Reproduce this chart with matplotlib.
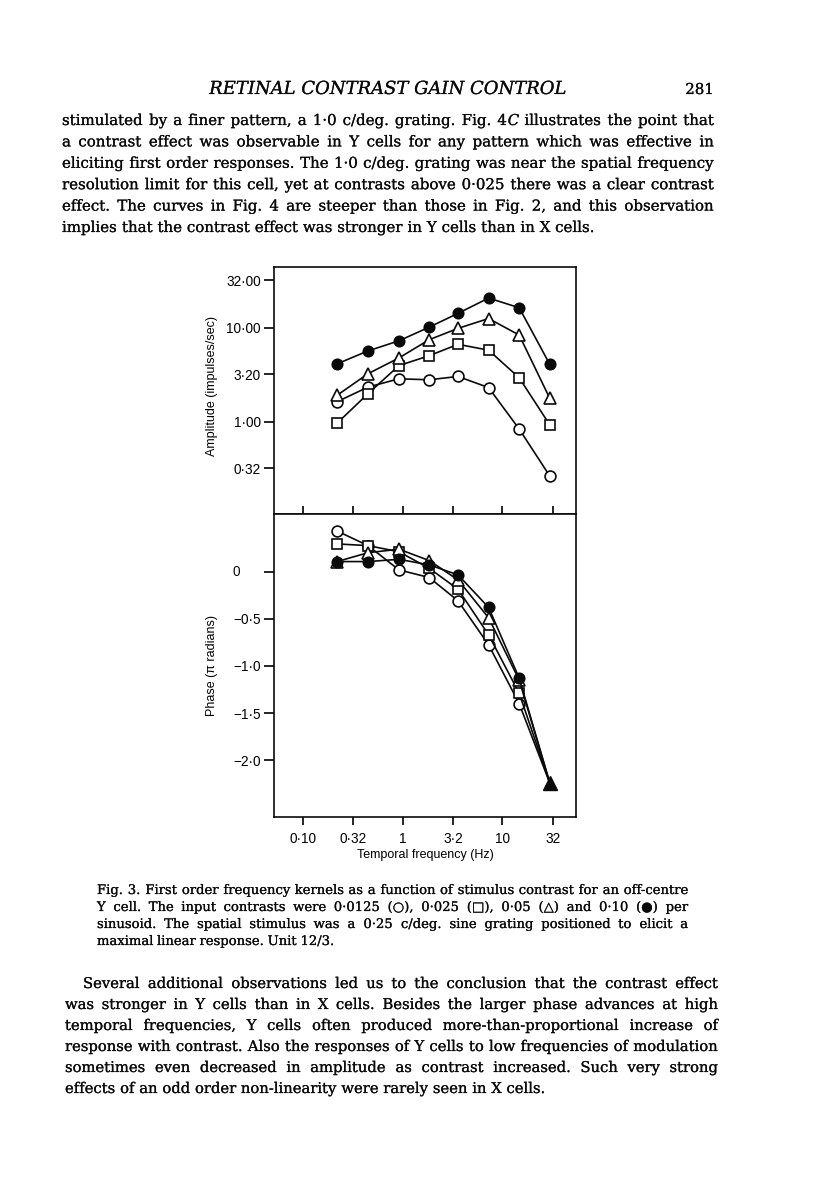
import matplotlib
matplotlib.use('Agg')
import matplotlib.pyplot as plt
import matplotlib.patheffects as pe

# ---------------- data ----------------
freqs = [0.22, 0.45, 0.92, 1.85, 3.6, 7.3, 14.8, 30.0]

amp_c0125 = [1.64, 2.35, 2.88, 2.81, 3.05, 2.32, 0.84, 0.266]   # open circles
amp_c025 = [0.97, 2.0, 3.98, 5.07, 6.7, 5.8, 2.95, 0.93]        # open squares
amp_c05 = [1.92, 3.26, 4.8, 7.5, 9.9, 12.6, 8.4, 1.78]          # open triangles
amp_c10 = [4.15, 5.7, 7.3, 10.2, 14.3, 20.8, 16.4, 4.1]         # filled circles

ph_c0125 = [0.43, 0.275, 0.018, -0.063, -0.31, -0.776, -1.40, -2.24]
ph_c025 = [0.293, 0.275, 0.21, 0.035, -0.187, -0.67, -1.29, -2.24]
ph_c05 = [0.106, 0.2, 0.237, 0.117, -0.088, -0.49, -1.15, -2.24]
ph_c10 = [0.106, 0.106, 0.13, 0.071, -0.035, -0.38, -1.13, -2.24]

amp_ticks = [0.32, 1.0, 3.2, 10.0, 32.0]
amp_ticklabels = ['0·32', '1·00', '3·20', '10·00', '32·00']
ph_ticks = [0, -0.5, -1.0, -1.5, -2.0]
ph_ticklabels = ['', '\u22120·5', '\u22121·0', '\u22121·5', '\u22122·0']
f_ticks = [0.1, 0.32, 1, 3.2, 10, 32]
f_ticklabels = ['0·10', '0·32', '1', '3·2', '10', '32']

header = 'RETINAL CONTRAST GAIN CONTROL'
page_no = '281'
para1 = [
    'stimulated by a finer pattern, a 1·0 c/deg. grating. Fig. 4*C* illustrates the point that',
    'a contrast effect was observable in Y cells for any pattern which was effective in',
    'eliciting first order responses. The 1·0 c/deg. grating was near the spatial frequency',
    'resolution limit for this cell, yet at contrasts above 0·025 there was a clear contrast',
    'effect. The curves in Fig. 4 are steeper than those in Fig. 2, and this observation',
    'implies that the contrast effect was stronger in Y cells than in X cells.',
]
caption = [
    'Fig. 3. First order frequency kernels as a function of stimulus contrast for an off-centre',
    'Y cell. The input contrasts were 0·0125 (○), 0·025 (□), 0·05 (△) and 0·10 (●) per',
    'sinusoid. The spatial stimulus was a 0·25 c/deg. sine grating positioned to elicit a',
    'maximal linear response. Unit 12/3.',
]
para2 = [
    'Several additional observations led us to the conclusion that the contrast effect',
    'was stronger in Y cells than in X cells. Besides the larger phase advances at high',
    'temporal frequencies, Y cells often produced more-than-proportional increase of',
    'response with contrast. Also the responses of Y cells to low frequencies of modulation',
    'sometimes even decreased in amplitude as contrast increased. Such very strong',
    'effects of an odd order non-linearity were rarely seen in X cells.',
]

# ---------------- figure ----------------
W, H = 816, 1191
fig = plt.figure(figsize=(W / 100, H / 100), dpi=100)
fig.patch.set_facecolor('white')
renderer = fig.canvas.get_renderer()
SERIF = ['DejaVu Serif', 'DejaVu Sans']
SANS = ['Liberation Sans', 'DejaVu Sans']
INK = '#0a0a0a'
HEAVY = [pe.withStroke(linewidth=0.15, foreground=INK)]


def fx(x):
    return x / W


def fy(y):
    return 1 - y / H


def ink(s, size, style='normal'):
    t = fig.text(0, 0, s, fontsize=size, family=SERIF, style=style)
    w = t.get_window_extent(renderer).width
    t.remove()
    return w


def segs(word):
    parts = word.split('*')
    return [(p, 'italic' if i % 2 else 'normal') for i, p in enumerate(parts) if p]


def word_width(word, size):
    return sum(ink(p, size, st) for p, st in segs(word))


def space_width(size):
    return ink('a a', size) - 2 * ink('a', size)


def draw_word(x, y, word, size):
    for p, st in segs(word):
        fig.text(fx(x), fy(y), p, fontsize=size, family=SERIF, style=st,
                 ha='left', va='baseline', color=INK, path_effects=HEAVY)
        x += ink(p, size, st) + (0.8 if st == 'normal' and len(segs(word)) > 1 else 0)


def draw_line(line, x0, x1, y, size, justify=True):
    words = line.split(' ')
    widths = [word_width(w, size) for w in words]
    if justify and len(words) > 1:
        gap = (x1 - x0 - sum(widths)) / (len(words) - 1)
    else:
        gap = space_width(size)
    x = x0
    for w, wd in zip(words, widths):
        draw_word(x, y, w, size)
        x += wd + gap


def fit_size(lines, width, indent0=0, base=10.0, fill=0.99):
    sp = space_width(base)
    best = 0
    for i, ln in enumerate(lines[:-1]):
        words = ln.split(' ')
        nat = sum(word_width(w, base) for w in words) + sp * (len(words) - 1)
        avail = width - (indent0 if i == 0 else 0)
        best = max(best, nat / avail)
    return base * fill / best


def draw_para(lines, x0, x1, y0, dy, indent0=0, size=None):
    if size is None:
        size = fit_size(lines, x1 - x0, indent0)
    for i, ln in enumerate(lines):
        xs = x0 + (indent0 if i == 0 else 0)
        draw_line(ln, xs, x1, y0 + i * dy, size, justify=(i < len(lines) - 1))
    return size


# text blocks
s1 = draw_para(para1, 62, 714, 125, 21.4)
hs = 10.0 * 357 / ink(header, 10.0, 'italic')
fig.text(fx(388), fy(94), header, fontsize=hs, family=SERIF, style='italic',
         ha='center', va='baseline', color=INK, path_effects=HEAVY)
fig.text(fx(714), fy(94), page_no, fontsize=s1, family=SERIF,
         ha='right', va='baseline', color=INK, path_effects=HEAVY)
draw_para(caption, 97, 688, 894, 17.0)
draw_para(para2, 65, 718, 988, 21.0, indent0=18)

# ---------------- charts ----------------
plt.rcParams['font.family'] = SANS


def axes_px(l, t, r, b):
    return fig.add_axes([l / W, 1 - b / H, (r - l) / W, (b - t) / H])


ax1 = axes_px(274, 267, 576, 514)
ax2 = axes_px(274, 514, 576, 817)

for ax in (ax1, ax2):
    ax.set_xscale('log')
    ax.set_xlim(10 ** -1.29, 10 ** 1.74)
    for sp in ax.spines.values():
        sp.set_linewidth(1.2)
        sp.set_color(INK)

ax1.set_yscale('log')
ax1.set_ylim(0.105, 44.5)
ax2.set_ylim(-2.6, 0.61)

styles = [
    dict(marker='o', mfc='white', ms=7.8),
    dict(marker='s', mfc='white', ms=7.0),
    dict(marker='^', mfc='white', ms=8.5),
    dict(marker='o', mfc=INK, ms=7.5),
]
common = dict(color=INK, mec=INK, mew=1.2, lw=1.2, clip_on=False)

for ys, st in zip([amp_c0125, amp_c025, amp_c05, amp_c10], styles):
    ax1.plot(freqs, ys, **st, **common)
# in the phase panel the four curves meet at the last frequency, drawn as one solid triangle
n = len(freqs)
for ys, st, mk in zip([ph_c0125, ph_c025, ph_c05, ph_c10], styles,
                      [list(range(n - 1)), list(range(n - 1)), list(range(n - 1)), list(range(n - 1))]):
    ax2.plot(freqs, ys, markevery=mk, **st, **common)
ax2.plot(freqs[-1:], ph_c05[-1:], marker='^', ms=9.5, color=INK, mfc=INK, mec=INK,
         lw=0, clip_on=False, zorder=5)

# ticks
ax1.minorticks_off()
ax2.minorticks_off()
ax1.set_yticks(amp_ticks)
ax1.set_yticklabels(amp_ticklabels)
ax1.set_xticks(f_ticks)
ax1.set_xticklabels([])
ax1.tick_params(axis='x', direction='in', length=6, width=1.2, bottom=True, top=False)
ax1.tick_params(axis='y', direction='out', length=7, width=1.2, pad=2.5, labelsize=9.8)

ax2.set_yticks(ph_ticks)
ax2.set_yticklabels(ph_ticklabels)
ax2.set_xticks(f_ticks)
ax2.set_xticklabels(f_ticklabels)
ax2.tick_params(axis='x', direction='out', length=6, width=1.2, pad=5, labelsize=9.8)
ax2.tick_params(axis='y', direction='out', length=7, width=1.2, pad=2.5, labelsize=9.8)
ax1.minorticks_off()
ax2.minorticks_off()
# the "0" label sits under the integer digit of the other labels
ax2.text((236 - 274) / 302, 0, '0', transform=ax2.get_yaxis_transform(),
         ha='center', va='center', fontsize=9.8, color=INK)

ax1.set_ylabel('Amplitude (impulses/sec)', fontsize=9)
ax1.yaxis.set_label_coords((218 - 274) / 302, 0.52)
ax2.set_ylabel('Phase (\u03c0 radians)', fontsize=9)
ax2.yaxis.set_label_coords((218 - 274) / 302, 0.5)
ax2.set_xlabel('Temporal frequency (Hz)', fontsize=9)
ax2.xaxis.set_label_coords(0.5, -(849 - 817) / 303)

fig.savefig('out.png', dpi=100, facecolor='white')
